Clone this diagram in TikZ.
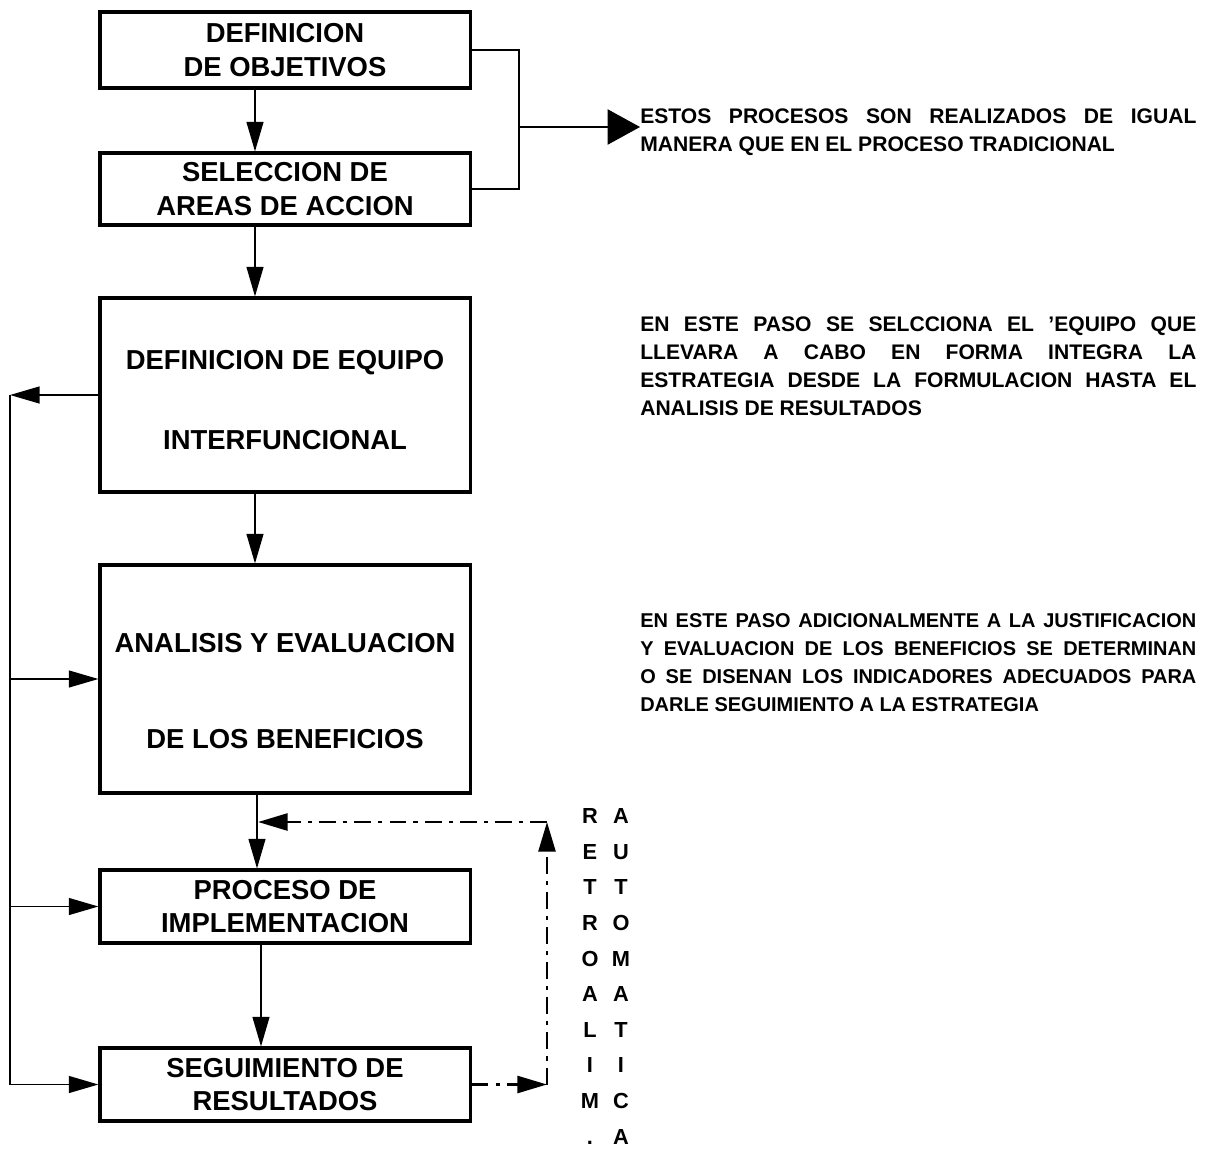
\documentclass[tikz,border=0pt]{standalone}
\usepackage{fontspec}
\setmainfont{Liberation Sans}
\usetikzlibrary{arrows.meta}

\tikzset{
  paso/.style={draw, line width=2.2pt, minimum width=9.25cm, align=center, inner sep=0pt,
    font=\fontsize{19.5}{24}\selectfont\bfseries},
  nota/.style={anchor=north west, text width=13.9cm, align=justify, inner sep=0pt,
    font=\fontsize{15}{20}\selectfont\bfseries},
  letra/.style={inner sep=0pt, anchor=base, font=\fontsize{15.5}{18}\selectfont\bfseries},
  flecha/.style={line width=1.1pt, -{Triangle[length=21pt,width=12pt]}},
  retro/.style={line width=2pt, dash pattern=on 12pt off 5pt on 3pt off 5pt},
}

\begin{document}
\begin{tikzpicture}[x=0.025cm, y=-0.025cm]
\useasboundingbox (0,0) rectangle (1232,1151);
% pasos
\node[paso, minimum height=1.9cm] (b1) at (285,50) {DEFINICION\\DE OBJETIVOS};
\node[paso, minimum height=1.8cm] (b2) at (285,189) {SELECCION DE\\AREAS DE ACCION};
\node[paso, minimum height=4.85cm] (b3) at (285,395) {\rule{0pt}{21pt}DEFINICION DE EQUIPO\\[33pt]INTERFUNCIONAL};
\node[paso, minimum height=5.7cm] (b4) at (285,679) {\rule{0pt}{31pt}ANALISIS Y EVALUACION\\[44pt]DE LOS BENEFICIOS};
\node[paso, minimum height=1.825cm] (b5) at (285,906.5) {PROCESO DE\\IMPLEMENTACION};
\node[paso, minimum height=1.825cm] (b6) at (285,1084.5) {SEGUIMIENTO DE\\RESULTADOS};
% notas
\node[nota] (n1) at (640,108) {ESTOS PROCESOS SON REALIZADOS DE IGUAL\linebreak
  MANERA QUE EN EL PROCESO TRADICIONAL};
\node[nota] (n2) at (640,316) {EN ESTE PASO SE SELCCIONA EL 'EQUIPO QUE\linebreak
  LLEVARA A CABO EN FORMA INTEGRA LA\linebreak
  ESTRATEGIA DESDE LA FORMULACION HASTA EL\linebreak
  ANALISIS DE RESULTADOS};
\node[nota, font=\fontsize{14.2}{20}\selectfont\bfseries] (n3) at (640,613) {EN ESTE PASO ADICIONALMENTE A LA JUSTIFICACION\linebreak
  Y EVALUACION DE LOS BENEFICIOS SE DETERMINAN\linebreak
  O SE DISENAN LOS INDICADORES ADECUADOS PARA\linebreak
  DARLE SEGUIMIENTO A LA ESTRATEGIA};
% flujo principal
\draw[flecha] ([xshift=-0.75cm]b1.south) -- ([xshift=-0.75cm]b2.north);
\draw[flecha] ([xshift=-0.75cm]b2.south) -- ([xshift=-0.75cm]b3.north);
\draw[flecha] ([xshift=-0.75cm]b3.south) -- ([xshift=-0.75cm]b4.north);
\draw[flecha] ([xshift=-0.7cm]b4.south) -- ([xshift=-0.7cm]b5.north);
\draw[flecha] ([xshift=-0.6cm]b5.south) -- ([xshift=-0.6cm]b6.north);
% llave derecha
\coordinate (brk) at (519,127);
\draw[line width=1.1pt] (b1.east) -| (brk) |- (b2.east);
\draw[line width=1.1pt, -{Triangle[length=23pt,width=25pt]}] (brk) -- (brk -| n1.west);
% linea izquierda
\coordinate (lt) at (10,395);
\coordinate (lb) at (10,1084.5);
\draw[flecha] (b3.west) -- (lt);
\draw[line width=1.1pt] (lt) -- (lb);
\draw[flecha] (lb) -- (b6.west);
\draw[flecha] (lt |- b4.west) -- (b4.west);
\draw[flecha] (lt |- b5.west) -- (b5.west);
% retroalimentacion
\coordinate (rtop) at (547,822);
\coordinate (rbot) at (547,1084.5);
\coordinate (mrg) at (258,822);
\draw[flecha, retro] (b6.east) -- (rbot);
\draw[flecha, retro] (rbot) -- (rtop);
\draw[flecha, retro] (rtop) -- (mrg);
\foreach \ca/\cb [count=\i] in {R/A, E/U, T/T, R/O, O/M, A/A, L/T, I/I, M/C, ./A}
 {\node[letra] (ra\i) at (590, 788+35.6*\i) {\ca};
  \node[letra] (au\i) at (621, 788+35.6*\i) {\cb};}
\end{tikzpicture}
\end{document}
